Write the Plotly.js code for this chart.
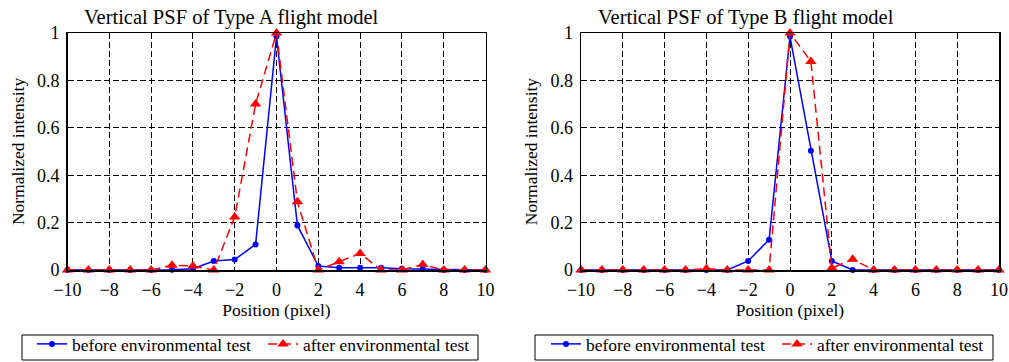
<!DOCTYPE html>
<html><head><meta charset="utf-8">
<script src="https://cdn.plot.ly/plotly-3.0.1.min.js"></script>
<style>html,body{margin:0;padding:0;background:#fff}#c{width:1009px;height:362px}</style>
</head><body><div id="c"></div>
<script>
const positions = [-10,-9,-8,-7,-6,-5,-4,-3,-2,-1,0,1,2,3,4,5,6,7,8,9,10];
const typeA_before = [0,0,0,0,0,0.001,0.005,0.038,0.044,0.108,0.985,0.188,0.017,0.01,0.01,0.01,0.005,0.004,0,0,0];
const typeA_after  = [0,0,0,0,0,0.02,0.017,0,0.224,0.70,1.0,0.288,0,0.035,0.07,0,0,0.023,0,0,0];
const typeB_before = [0,0,0,0,0,0,0,0,0.038,0.128,0.985,0.503,0.038,0,0,0,0,0,0,0,0];
const typeB_after  = [0,0,0,0,0,0,0.005,0,0,0,1.0,0.88,0.008,0.045,0,0,0,0,0,0,0];
const titles = ["Vertical PSF of Type A flight model","Vertical PSF of Type B flight model"];
const legendNames = ["before environmental test","after environmental test"];
const xTitle = "Position (pixel)";
const yTitle = "Normalized intensity";

const W=1009,H=362;
const font = {family:"'Liberation Serif', 'Times New Roman', Times, 'DejaVu Serif', serif", color:"#000"};
function fx(p){return p/W;} function fy(p){return (H-p)/H;}

const blue = "#0000ff", red = "#ff0000";
function traces(before, after, xa, ya, lg){
  return [
    {x:positions,y:before,xaxis:xa,yaxis:ya,legend:lg,name:legendNames[0],mode:"lines+markers",cliponaxis:false,
     line:{color:blue,width:1.5},marker:{symbol:"circle",size:6,color:blue}},
    {x:positions,y:after,xaxis:xa,yaxis:ya,legend:lg,name:legendNames[1],mode:"lines+markers",cliponaxis:false,
     line:{color:red,width:1.5,dash:"9px,5px"},marker:{symbol:"triangle-up",size:10,color:red}}
  ];
}
const data = [...traces(typeA_before,typeA_after,"x","y","legend"),
              ...traces(typeB_before,typeB_after,"x2","y2","legend2")];

function xaxis(d){return {domain:d,range:[-10,10],dtick:2,tick0:-10,showgrid:true,gridcolor:"#000",griddash:"6px,3px",gridwidth:1,
  showline:true,linecolor:"#000",linewidth:1.5,mirror:true,zeroline:false,ticks:"",ticklabelstandoff:3,automargin:false,
  tickfont:{...font,size:18},title:{text:xTitle,font:{...font,size:17.5},standoff:4}};}
function yaxis(){return {domain:[fy(270),fy(33)],range:[0,1],dtick:0.2,showgrid:true,gridcolor:"#000",griddash:"6px,3px",gridwidth:1,
  showline:true,linecolor:"#000",linewidth:1.5,mirror:true,zeroline:false,ticks:"",ticklabelstandoff:3,automargin:false,
  tickfont:{...font,size:18},title:{text:yTitle,font:{...font,size:17.5},standoff:8}};}

const yA=yaxis(), yB=yaxis(); yB.anchor="x2";
const legendStyle = {orientation:"h",borderwidth:0,bgcolor:"rgba(0,0,0,0)",font:{...font,size:17.5},
  yanchor:"bottom",xanchor:"left",entrywidth:186,tracegroupgap:0,itemwidth:30};
function box(x0,x1){return {type:"rect",xref:"paper",yref:"paper",x0:fx(x0),x1:fx(x1),y0:fy(360),y1:fy(335),line:{color:"#000",width:1}};}
const layout = {
  width:W,height:H,margin:{l:0,r:0,t:0,b:0},paper_bgcolor:"#fff",plot_bgcolor:"#fff",font:font,
  xaxis:{...xaxis([fx(67.5),fx(485.5)]),anchor:"y"},
  yaxis:{...yA,anchor:"x"},
  xaxis2:{...xaxis([fx(581),fx(999)]),anchor:"y2"},
  yaxis2:yB,
  legend:{...legendStyle,x:fx(32),y:0},
  legend2:{...legendStyle,x:fx(546),y:0},
  shapes:[box(22,478),box(535,993)],
  annotations:[
    {text:titles[0],xref:"paper",yref:"paper",x:fx(231),y:fy(17),xanchor:"center",yanchor:"middle",showarrow:false,font:{...font,size:20.5}},
    {text:titles[1],xref:"paper",yref:"paper",x:fx(746),y:fy(17),xanchor:"center",yanchor:"middle",showarrow:false,font:{...font,size:20.5}}
  ]
};
Plotly.newPlot("c",data,layout,{displayModeBar:false,staticPlot:true});
</script></body></html>
